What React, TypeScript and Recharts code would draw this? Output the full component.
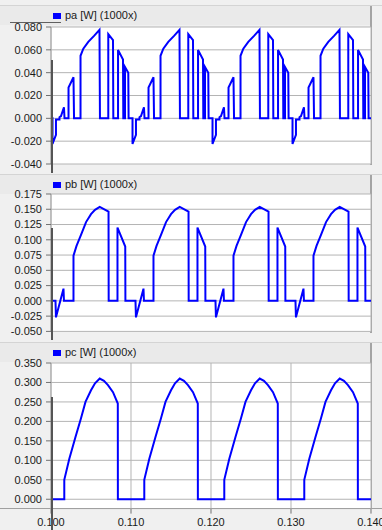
import React from 'react';
import { LineChart, Line, XAxis, YAxis, CartesianGrid } from 'recharts';

// start of each 10 ms period shown
const PERIOD_STARTS = [0.1, 0.11, 0.12, 0.13];

// one period of each trace: offset in ms, value
const PA_MS = [0, 0.19, 0.19, 0.62, 0.62, 1.06, 1.06, 1.25, 1.62, 1.69, 2.19, 2.19, 2.81, 2.88, 3.69, 3.69, 4.04, 4.66, 5.41, 6.06, 6.12, 7.16, 7.16, 7.75, 7.79, 8.38, 8.38, 9.0, 9.04, 9.25, 9.25, 9.66, 9.7, 10];
const PA_VAL = [0, 0, -0.0225, -0.0145, -0.001, -0.001, 0.001, 0.002, 0.0097, 0, 0, 0.027, 0.036, 0, 0, 0.0548, 0.061, 0.067, 0.0724, 0.0775, 0, 0, 0.0738, 0.0686, 0, 0, 0.0598, 0.0516, 0, 0, 0.045, 0.04, 0, 0];

const PB_MS = [0, 0.56, 0.62, 1.56, 1.62, 2.81, 2.81, 3.19, 3.75, 4.38, 5.0, 5.5, 6.09, 7.19, 7.21, 8.31, 8.31, 9.28, 9.3, 10];
const PB_VAL = [0, 0, -0.027, 0.02, 0, 0, 0.074, 0.09, 0.108, 0.129, 0.142, 0.149, 0.154, 0.146, 0, 0, 0.12, 0.089, 0, 0];

const PC_MS = [0, 1.66, 1.66, 2.29, 3.06, 3.75, 4.31, 5.0, 5.5, 6.09, 6.62, 7.12, 7.75, 8.35, 8.36, 10];
const PC_VAL = [0, 0, 0.05, 0.104, 0.16, 0.208, 0.25, 0.28, 0.298, 0.31, 0.304, 0.293, 0.275, 0.246, 0, 0];

const X_TICKS = [0.1, 0.11, 0.12, 0.13, 0.14];
const PA_TICKS = [-0.04, -0.02, 0, 0.02, 0.04, 0.06, 0.08];
const PB_TICKS = [-0.05, -0.025, 0, 0.025, 0.05, 0.075, 0.1, 0.125, 0.15, 0.175];
const PC_TICKS = [0, 0.05, 0.1, 0.15, 0.2, 0.25, 0.3, 0.35];

const FONT = '"Liberation Sans", Arial, sans-serif';

const buildRows = (ms: number[], vals: number[]) =>
  PERIOD_STARTS.flatMap((t0) => ms.map((m, i) => ({ t: t0 + m / 1000, v: vals[i] })));

const fmt = (v: number) => v.toFixed(3);

type ScopeProps = {
  top: number;
  height: number;
  rows: { t: number; v: number }[];
  domain: [number, number];
  ticks: number[];
  showX?: boolean;
};

const Scope = ({ top, height, rows, domain, ticks, showX }: ScopeProps) => (
  <div style={{ position: 'absolute', left: 0, top }}>
    <LineChart width={382} height={height} data={rows} margin={{ top: 10, right: 11, bottom: showX ? 0 : 10, left: 0 }}>
      <CartesianGrid stroke="#b4b4b4" fill="#ffffff" />
      <XAxis
        type="number"
        dataKey="t"
        domain={[0.1, 0.14]}
        ticks={X_TICKS}
        allowDataOverflow
        height={showX ? 22 : 0}
        tick={showX ? { fill: '#1a1a1a', fontSize: 11, fontFamily: FONT } : false}
        tickFormatter={fmt}
        tickSize={5}
        tickMargin={5}
        tickLine={showX ? { stroke: '#707070' } : false}
        axisLine={false}
        interval={0}
      />
      <YAxis
        type="number"
        domain={domain}
        ticks={ticks}
        allowDataOverflow
        width={51}
        tick={{ fill: '#1a1a1a', fontSize: 11, fontFamily: FONT }}
        tickFormatter={fmt}
        tickSize={5}
        tickMargin={4}
        tickLine={{ stroke: '#707070' }}
        axisLine={{ stroke: '#a8a8a8' }}
        interval={0}
      />
      <Line type="linear" dataKey="v" stroke="#0000ff" strokeWidth={2} dot={false} isAnimationActive={false} />
    </LineChart>
  </div>
);

const Header = ({ top, plotBottom, label }: { top: number; plotBottom: number; label: string }) => (
  <>
    <div style={{ position: 'absolute', left: 0, top, width: 382, height: 1, background: '#d4d4d4' }} />
    <div style={{ position: 'absolute', left: 0, top: top + 1, width: 371, height: 19, background: '#eaeaea' }} />
    <div style={{ position: 'absolute', left: 370, top: top + 1, width: 2, height: plotBottom - top, background: '#a4a4a4' }} />
    <div style={{ position: 'absolute', left: 53, top: top + 8, width: 8, height: 6, background: '#0000ff' }} />
    <div style={{ position: 'absolute', left: 65, top: top + 4, fontSize: 11, lineHeight: '13px', fontFamily: FONT, color: '#1a1a1a', whiteSpace: 'nowrap' }}>
      {label}
    </div>
  </>
);

export default function App() {
  const pa = buildRows(PA_MS, PA_VAL);
  const pb = buildRows(PB_MS, PB_VAL);
  const pc = buildRows(PC_MS, PC_VAL);

  return (
    <div style={{ position: 'absolute', left: 0, top: 0, width: 382, height: 530, background: '#f0f0f0', overflow: 'hidden' }}>
      <Header top={5} plotBottom={164} label="pa [W] (1000x)" />
      <Header top={174} plotBottom={332} label="pb [W] (1000x)" />
      <Header top={342} plotBottom={508} label="pc [W] (1000x)" />

      <Scope top={17} height={157} rows={pa} domain={[-0.04, 0.08]} ticks={PA_TICKS} />
      <Scope top={184.3} height={157.4} rows={pb} domain={[-0.05, 0.175]} ticks={PB_TICKS} />
      <Scope top={352.7} height={177.6} rows={pc} domain={[-0.024, 0.35]} ticks={PC_TICKS} showX />

      {/* x axis line runs the full width */}
      <div style={{ position: 'absolute', left: 0, top: 508, width: 382, height: 1, background: '#a0a0a0' }} />
      {/* dark cursor marks at the left edge */}
      <div style={{ position: 'absolute', left: 10, top: 22, width: 51, height: 1, background: '#606060' }} />
      <div style={{ position: 'absolute', left: 51, top: 60, width: 2, height: 113, background: '#555555' }} />
      <div style={{ position: 'absolute', left: 51, top: 228, width: 2, height: 112, background: '#555555' }} />
      <div style={{ position: 'absolute', left: 51, top: 397, width: 2, height: 133, background: '#555555' }} />
    </div>
  );
}
